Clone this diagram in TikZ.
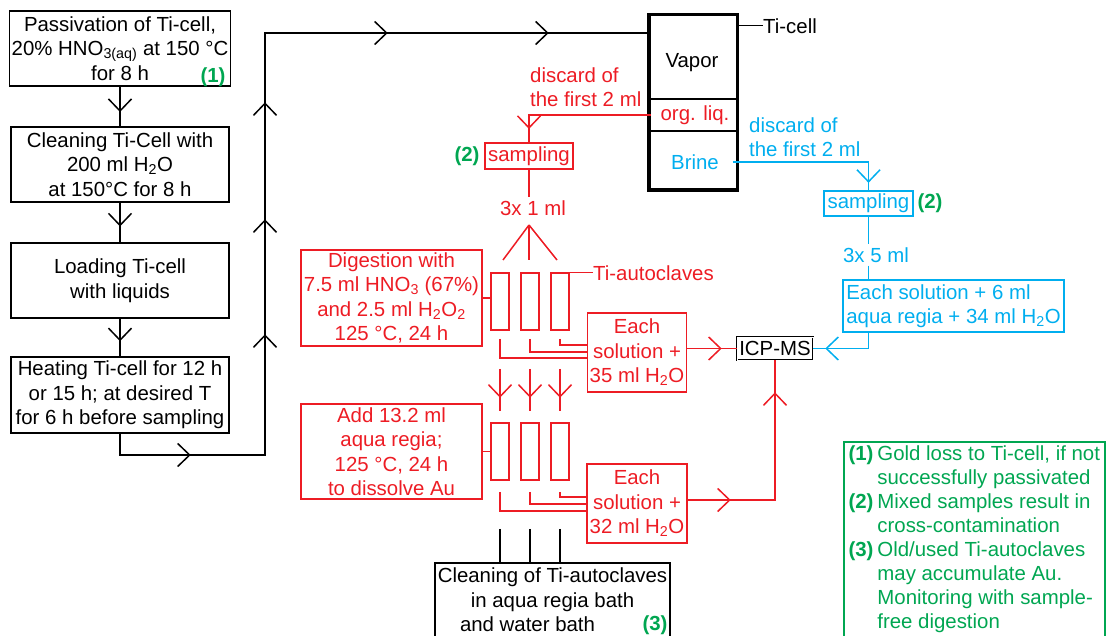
\documentclass[tikz,border=0pt]{standalone}
\usepackage{fontspec}
\setmainfont{Liberation Sans}
\usetikzlibrary{arrows.meta,decorations.markings}
\definecolor{redc}{RGB}{237,28,36}
\definecolor{bluec}{RGB}{0,174,239}
\definecolor{grnc}{RGB}{0,166,81}
\tikzset{
    barb/.tip={Straight Barb[length=12pt,width=23pt]},
    flowbox/.style={draw, rectangle, line width=1.5pt, align=center, inner xsep=2pt, inner ysep=0pt},
    redbox/.style={flowbox, draw=redc, text=redc},
    bluebox/.style={flowbox, draw=bluec, text=bluec},
    tube/.style={draw=redc, rectangle, line width=1.5pt, minimum width=18, minimum height=57, inner sep=0pt},
    num/.style={text=grnc, font=\fontsize{20.4}{24.5}\selectfont\bfseries, inner sep=0pt},
    lbl/.style={inner sep=0pt, align=left},
    ln/.style={draw, line width=1.5pt},
    redln/.style={ln, color=redc},
    blueln/.style={ln, color=bluec},
    marr/.style={postaction={decorate, decoration={markings, mark=at position #1 with {\arrow{barb}}}}}
}

\begin{document}
\begin{tikzpicture}[x=1pt, y=-1pt, font=\fontsize{20.4}{24.5}\selectfont]
    \useasboundingbox (0,0) rectangle (1108,636);

    % Preparing the Ti-cell
    \node[flowbox, minimum width=218, minimum height=75] (passiv) at (120,48.5) {Passivation of Ti-cell,\\20\% HNO\textsubscript{3(aq)} at 150 °C\\for 8 h};
    \node[num] (n1) at (213,77) {(1)};
    \node[flowbox, minimum width=218, minimum height=75] (clean) at (120,164.5) {Cleaning Ti-Cell with\\200 ml H\textsubscript{2}O\\at 150°C for 8 h};
    \node[flowbox, minimum width=218, minimum height=75] (load) at (120,280.5) {Loading Ti-cell\\with liquids};
    \node[flowbox, minimum width=218, minimum height=76] (heat) at (120,395) {Heating Ti-cell for 12 h\\or 15 h; at desired T\\for 6 h before sampling};

    \draw[ln, marr=0.64] (passiv) -- (clean);
    \draw[ln, marr=0.6] (clean) -- (load);
    \draw[ln, marr=0.6] (load) -- (heat);

    % The Ti-cell
    \node[draw, line width=3.5pt, minimum width=88.5, minimum height=175.5, inner sep=0pt] (ticell) at (693,102.5) {};
    \draw[ln] (ticell.west |- 0,99) -- (ticell.east |- 0,99);
    \draw[ln] (ticell.west |- 0,131) -- (ticell.east |- 0,131);
    \node (vapor) at (692,63) {Vapor};
    \node[text=redc] (org) at (695,115) {org. liq.};
    \node[text=bluec] (brine) at (695,162) {Brine};
    \node[lbl, anchor=west] (ticelllbl) at (763,26) {Ti-cell};
    \draw[line width=1pt] (ticell.east |- ticelllbl.west) -- (ticelllbl.west);

    \coordinate (turn) at (265,455);
    \coordinate (top) at (265,33);
    \draw[ln, marr=92pt, marr=287pt, marr=402pt, marr=519pt, marr=711pt, marr=872pt] (heat.south) |- (turn) |- (ticell.west |- top);

    % Organic liquid
    \node[lbl, anchor=west, text=redc] (rdisc) at (530,87) {discard of\\the first 2 ml};
    \node[redbox, minimum width=88, minimum height=26] (rsamp) at (529,156) {sampling};
    \node[num] (n2r) at (467,156) {(2)};
    \draw[redln, marr=136pt] ([xshift=-6pt]org.west) -| (rsamp.north);
    \node[text=redc, inner sep=3pt] (r3x) at (533,208) {3x 1 ml};
    \draw[redln] (rsamp.south) -- (rsamp.south |- r3x.north);
    \coordinate (fan) at (529,225);
    \foreach \x in {503,529,557}
        \draw[redln] (fan) -- (\x,260);

    % Ti-autoclaves
    \foreach \i/\x in {1/500,2/530,3/560} {
        \node[tube] (a\i) at (\x,301.5) {};
        \node[tube] (b\i) at (\x,451.5) {};
    }
    \node[lbl, anchor=west, text=redc] (tiauto) at (593,273) {Ti-autoclaves};
    \draw[redln, line width=1pt] (a3.north east) -- (tiauto.west |- a3.north east);

    \node[redbox, minimum width=181, minimum height=96] (dig) at (391.5,298) {Digestion with\\7.5 ml HNO\textsubscript{3} (67\%)\\and 2.5 ml H\textsubscript{2}O\textsubscript{2}\\125 °C, 24 h};
    \draw[redln] (dig.east) -- (dig.east -| a1.west);
    \node[redbox, minimum width=98, minimum height=79] (each35) at (637,352.5) {Each\\solution +\\35 ml H\textsubscript{2}O};
    \foreach \i/\y in {1/358,2/352,3/345}
        \draw[redln] ([yshift=-8pt]a\i.south) |- (each35.west |- 0,\y);
    \foreach \i in {1,2,3}
        \draw[redln, marr=29pt] ([yshift=-38pt]a\i.south) -- ([yshift=11pt]b\i.north);

    \node[redbox, minimum width=181, minimum height=95] (add) at (391.5,451.5) {Add 13.2 ml\\aqua regia;\\125 °C, 24 h\\to dissolve Au};
    \draw[redln] (add.east) -- (add.east -| b1.west);
    \node[redbox, minimum width=100, minimum height=79] (each32) at (637,503.5) {Each\\solution +\\32 ml H\textsubscript{2}O};
    \foreach \i/\y in {1/511,2/504,3/497}
        \draw[redln] ([yshift=-11pt]b\i.south) |- (each32.west |- 0,\y);

    % Analysis
    \node[draw, double, double distance=1pt, line width=0.8pt, minimum width=76, minimum height=23, inner sep=1pt] (icp) at (775,348.5) {ICP-MS};
    \draw[redln, marr=0.7] (each35.east |- icp.west) -- (icp.west);
    \draw[redln, marr=43pt, marr=195pt] (each32.east |- 0,500) -| (icp.south);

    % Brine
    \node[lbl, anchor=west, text=bluec] (bdisc) at (749,137) {discard of\\the first 2 ml};
    \node[bluebox, minimum width=89, minimum height=25] (bsamp) at (868.5,203.5) {sampling};
    \node[num] (n2b) at (930,203) {(2)};
    \draw[blueln, marr=156pt] ([xshift=11pt]brine.east) -| (bsamp.north);
    \node[text=bluec, inner sep=3pt] (b3x) at (876,255) {3x 5 ml};
    \draw[blueln] (bsamp.south) -- (bsamp.south |- b3x.north);
    \node[bluebox, minimum width=221, minimum height=52, align=left] (beach) at (953.5,306) {Each solution + 6 ml\\aqua regia + 34 ml H\textsubscript{2}O};
    \draw[blueln] (bsamp.south |- b3x.south) -- (bsamp.south |- beach.north);
    \draw[blueln, marr=59pt] (bsamp.south |- beach.south) |- (icp.east);

    % Cleaning
    \node[flowbox, minimum width=235, minimum height=74] (cleanauto) at (552.5,600) {Cleaning of Ti-autoclaves\\in aqua regia bath\\and water bath\hspace*{50pt}};
    \node[num] (n3) at (655,625) {(3)};
    \foreach \i in {1,2,3}
        \draw[ln] ([yshift=-48pt]b\i.south) -- (b\i.south |- cleanauto.north);

    % Notes
    \node[draw=grnc, line width=1.5pt, text=grnc, anchor=north west, minimum width=261, inner xsep=4pt, inner ysep=2pt, font=\fontsize{20.4}{24}\selectfont] (notes) at (843,441) {%
        \begin{tabular}{@{}l@{\hspace{4pt}}l@{}}
            \textbf{(1)} & Gold loss to Ti-cell, if not\\
                         & successfully passivated\\
            \textbf{(2)} & Mixed samples result in\\
                         & cross-contamination\\
            \textbf{(3)} & Old/used Ti-autoclaves\\
                         & may accumulate Au.\\
                         & Monitoring with sample-\\
                         & free digestion
        \end{tabular}};
\end{tikzpicture}
\end{document}
